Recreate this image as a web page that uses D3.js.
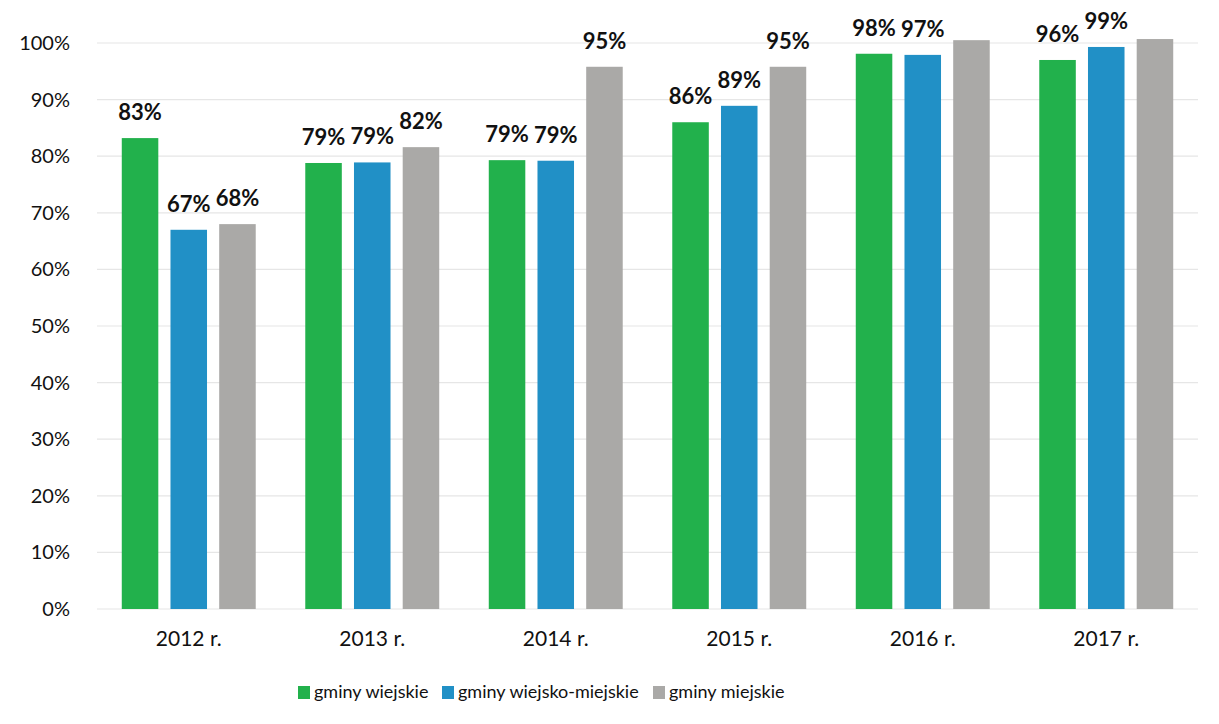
<!DOCTYPE html>
<html>
<head>
<meta charset="utf-8">
<script src="https://cdn.jsdelivr.net/npm/d3@7"></script>
<style>
  body { margin: 0; background: #fff; }
  svg { font-family: Lato, "Open Sans", sans-serif; }
</style>
</head>
<body>
<svg id="chart" width="1219" height="724"></svg>
<script>
// data
const years = ['2012 r.', '2013 r.', '2014 r.', '2015 r.', '2016 r.', '2017 r.']
const series = ['gminy wiejskie', 'gminy wiejsko-miejskie', 'gminy miejskie']
const wiejskie = [83.2, 78.8, 79.3, 86.0, 98.1, 97.0]
const wiejskoMiejskie = [67.0, 78.9, 79.2, 88.9, 97.9, 99.3]
const miejskie = [68.0, 81.6, 95.8, 95.8, 100.5, 100.7]
const labWiejskie = ['83%', '79%', '79%', '86%', '98%', '96%']
const labWiejskoMiejskie = ['67%', '79%', '79%', '89%', '97%', '99%']
const labMiejskie = ['68%', '82%', '95%', '95%', null, null]
const yTicks = [0, 10, 20, 30, 40, 50, 60, 70, 80, 90, 100]
const colors = ['#22b14c', '#2190c6', '#aaa9a7']

const values = [wiejskie, wiejskoMiejskie, miejskie]
const labels = [labWiejskie, labWiejskoMiejskie, labMiejskie]

const svg = d3.select('#chart')
const plotLeft = 97, plotRight = 1198, plotTop = 43, plotBottom = 609

const x0 = d3.scaleBand().domain(years).range([plotLeft, plotRight])
  .paddingInner(0.27).paddingOuter(0.135)
const x1 = d3.scaleBand().domain(series).range([0, x0.bandwidth()]).paddingInner(0.25)
const y = d3.scaleLinear().domain([0, 100]).range([plotBottom, plotTop])

// grid
svg.append('g')
  .selectAll('line')
  .data(yTicks).enter()
  .append('line')
    .attr('x1', plotLeft).attr('x2', plotRight)
    .attr('y1', d => y(d)).attr('y2', d => y(d))
    .attr('stroke', '#e6e6e6')
    .attr('stroke-width', 1.2)

// y axis labels
const yAxis = svg.append('g')
  .attr('transform', `translate(${plotLeft - 24},0)`)
  .call(d3.axisLeft(y).tickValues(yTicks).tickFormat(d => d + '%').tickSize(0))
yAxis.select('.domain').remove()
yAxis.selectAll('text')
  .attr('font-family', 'Lato, "Open Sans", sans-serif')
  .attr('font-size', 20)
  .attr('fill', '#111')

// x axis labels
const xAxis = svg.append('g')
  .attr('transform', `translate(0,${plotBottom + 19})`)
  .call(d3.axisBottom(x0).tickSize(0))
xAxis.select('.domain').remove()
xAxis.selectAll('text')
  .attr('font-family', 'Lato, "Open Sans", sans-serif')
  .attr('font-size', 21)
  .attr('fill', '#111')

// bars
const groups = svg.append('g')
  .selectAll('g')
  .data(years).enter()
  .append('g')
    .attr('transform', d => `translate(${x0(d)},0)`)

const cells = (d, i) => series.map((s, j) => ({ s, j, v: values[j][i], lab: labels[j][i] }))

groups.selectAll('rect')
  .data(cells)
  .enter().append('rect')
    .attr('x', d => x1(d.s))
    .attr('width', x1.bandwidth())
    .attr('y', d => y(d.v))
    .attr('height', d => plotBottom - y(d.v))
    .attr('fill', d => colors[d.j])

groups.selectAll('text.lab')
  .data((d, i) => cells(d, i).filter(c => c.lab))
  .enter().append('text')
    .attr('class', 'lab')
    .attr('x', d => x1(d.s) + x1.bandwidth() / 2)
    .attr('y', d => y(d.v) - 18)
    .attr('text-anchor', 'middle')
    .attr('font-size', 22)
    .attr('font-weight', 'bold')
    .attr('fill', '#111')
    .text(d => d.lab)

// legend
const legendX = [298, 442, 653]
const legend = svg.append('g')
  .selectAll('g')
  .data(series).enter()
  .append('g')
    .attr('transform', (d, i) => `translate(${legendX[i]},692)`)
legend.append('rect')
  .attr('x', 0).attr('y', -6)
  .attr('width', 12).attr('height', 13)
  .attr('fill', (d, i) => colors[i])
legend.append('text')
  .attr('x', 16).attr('y', 6)
  .attr('font-size', 18)
  .attr('fill', '#111')
  .text(d => d)
</script>
</body>
</html>
